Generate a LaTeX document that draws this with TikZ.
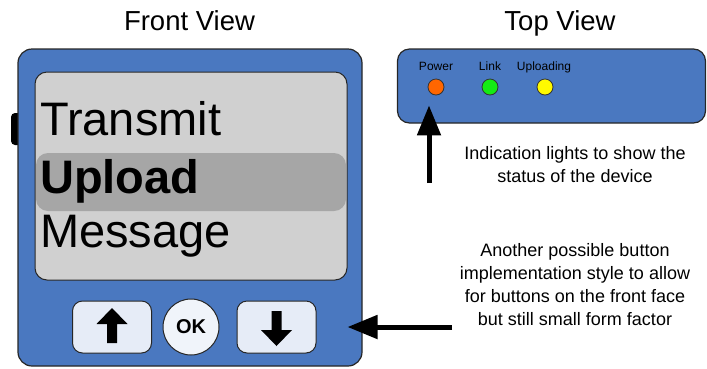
\documentclass[tikz,border=0pt]{standalone}
\usepackage{fontspec}
\setmainfont{Liberation Sans}
\usetikzlibrary{arrows.meta}
\definecolor{caseblue}{RGB}{74,120,192}
\definecolor{screengray}{RGB}{208,208,208}
\definecolor{bandgray}{RGB}{166,166,166}
\definecolor{keyfill}{RGB}{230,236,247}
\definecolor{ledorange}{RGB}{255,102,0}
\definecolor{ledgreen}{RGB}{20,235,20}
\definecolor{ledyellow}{RGB}{255,250,0}
\tikzset{
  casebox/.style={draw=black!85, fill=caseblue, line width=1.2pt, rounded corners=14pt, inner sep=0pt},
  keybox/.style={draw=black!85, fill=keyfill, line width=1pt, rounded corners=10pt, minimum width=79pt, minimum height=52pt},
  led/.style={circle, draw=black!80, line width=0.8pt, minimum size=16pt, inner sep=0pt},
  ledtext/.style={font=\fontsize{12}{12}\selectfont, anchor=base, inner sep=0pt},
  menutext/.style={font=\fontsize{47}{47}\selectfont, anchor=base west, inner sep=0pt},
  title/.style={font=\fontsize{27.5}{27.5}\selectfont, anchor=base, inner sep=0pt},
  note/.style={font=\fontsize{18}{22.7}\selectfont, align=center, anchor=base, inner sep=0pt},
  bigarrow/.style={line width=5pt, -{Triangle[length=30pt,width=23pt]}}
}
\begin{document}
\begin{tikzpicture}[x=1pt,y=-1pt]
  \useasboundingbox (0,0) rectangle (707,368);
  \node[title] (fronttitle) at (189.5,30) {Front View};
  \node[title] (toptitle) at (560,30) {Top View};
  % front of the device
  \fill[black, rounded corners=4pt] (11,113) rectangle (24,145);
  \node[casebox, minimum width=344pt, minimum height=317pt] (body) at (190,207.5) {};
  \node[draw=black!85, fill=screengray, line width=1pt, rounded corners=12pt,
        minimum width=312pt, minimum height=208pt] (screen) at (191,176) {};
  \node[fill=bandgray, rounded corners=12pt, minimum width=310pt, minimum height=58pt] (band) at (191,182) {};
  \node[menutext] (transmit) at (40,135) {Transmit};
  \node[menutext, font=\fontsize{47}{47}\selectfont\bfseries] (upload) at (40,193) {Upload};
  \node[menutext] (message) at (40,247) {Message};
  \node[keybox] (up) at (112,327) {};
  \node[keybox] (down) at (276.5,327) {};
  \node[circle, draw=black!85, fill=keyfill!60!white, line width=1pt, minimum size=56pt,
        font=\fontsize{20}{20}\selectfont\bfseries] (ok) at (191,327) {OK};
  \fill[shift={(up.center)}] (0,-19) -- (15.5,-3) -- (5,-3) -- (5,16) -- (-5,16) -- (-5,-3) -- (-15.5,-3) -- cycle;
  \fill[shift={(down.center)}, yscale=-1] (0,-19) -- (15.5,-3) -- (5,-3) -- (5,16) -- (-5,16) -- (-5,-3) -- (-15.5,-3) -- cycle;
  % top of the device
  \node[casebox, rounded corners=12pt, minimum width=308pt, minimum height=74pt] (topbody) at (551.5,86) {};
  \node[led, fill=ledorange] (power) at (436,87) {};
  \node[led, fill=ledgreen] (link) at (490,87) {};
  \node[led, fill=ledyellow] (uploading) at (545,87) {};
  \node[ledtext] (powerlbl) at (436,70) {Power};
  \node[ledtext] (linklbl) at (490,70) {Link};
  \node[ledtext] (uploadinglbl) at (544,70) {Uploading};
  % notes
  \node[note] (lightsnote) at (575,182) {Indication lights to show the\\status of the device};
  \node[note] (buttonsnote) at (575,325) {Another possible button\\implementation style to allow\\for buttons on the front face\\but still small form factor};
  \coordinate (pwrtail) at (429,183);
  \coordinate (btntail) at (452,327);
  \draw[bigarrow, shorten >=10pt] (pwrtail) -- (pwrtail |- power.south);
  \draw[bigarrow] (btntail) -- (btntail -| screen.east);
\end{tikzpicture}
\end{document}
